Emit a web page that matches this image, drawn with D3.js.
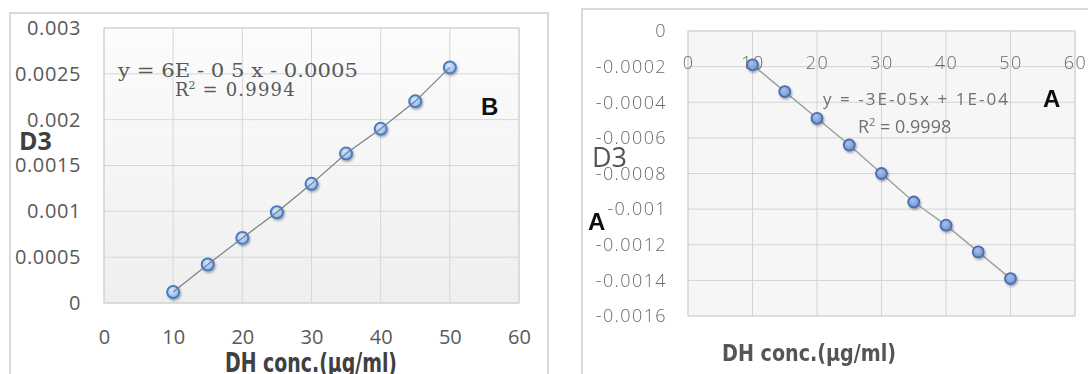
<!DOCTYPE html>
<html>
<head>
<meta charset="utf-8">
<script src="https://cdn.jsdelivr.net/npm/d3@7/dist/d3.min.js"></script>
<style>
  html, body { margin: 0; padding: 0; background: #ffffff; }
  svg { display: block; }
</style>
</head>
<body>
<svg id="chart" width="1088" height="374"></svg>
<script>
// Calibration data: DH concentration (µg/ml) vs. response
const concentrations = [10, 15, 20, 25, 30, 35, 40, 45, 50];
const seriesB = [0.00012, 0.00042, 0.00071, 0.00099, 0.0013, 0.00163, 0.0019, 0.0022, 0.00257];
const seriesA = [-0.00019, -0.00034, -0.00049, -0.00064, -0.0008, -0.00096, -0.00109, -0.00124, -0.00139];

const xTicks = [0, 10, 20, 30, 40, 50, 60];
const yTicksB = [0, 0.0005, 0.001, 0.0015, 0.002, 0.0025, 0.003];
const yLabelsB = ["0", "0.0005", "0.001", "0.0015", "0.002", "0.0025", "0.003"];
const yTicksA = [0, -0.0002, -0.0004, -0.0006, -0.0008, -0.001, -0.0012, -0.0014, -0.0016];
const yLabelsA = ["0", "-0.0002", "-0.0004", "-0.0006", "-0.0008", "-0.001", "-0.0012", "-0.0014", "-0.0016"];

const eqB = "y = 6E - 0 5 x  -  0.0005";
const r2B = "0.9994";
const eqA = "y = -3E-05x + 1E-04";
const r2A = "0.9998";
const axisTitle = "DH conc.(\u03BCg/ml)";

const svg = d3.select("#chart");
const defs = svg.append("defs");

// marker shading and shadow
const gB = defs.append("radialGradient").attr("id", "fillB").attr("cx", "40%").attr("cy", "35%").attr("r", "70%");
gB.append("stop").attr("offset", "0%").attr("stop-color", "#d6e6fb");
gB.append("stop").attr("offset", "100%").attr("stop-color", "#8db5ea");
const gA = defs.append("radialGradient").attr("id", "fillA").attr("cx", "40%").attr("cy", "35%").attr("r", "70%");
gA.append("stop").attr("offset", "0%").attr("stop-color", "#a9c1ea");
gA.append("stop").attr("offset", "100%").attr("stop-color", "#6f91d0");
const bgGrad = defs.append("linearGradient").attr("id", "plotBg").attr("x1", 0).attr("y1", 0).attr("x2", 0).attr("y2", 1);
bgGrad.append("stop").attr("offset", "0%").attr("stop-color", "#fcfcfc");
bgGrad.append("stop").attr("offset", "100%").attr("stop-color", "#efefef");
const sh = defs.append("filter").attr("id", "shadow").attr("x", "-50%").attr("y", "-50%").attr("width", "200%").attr("height", "200%");
sh.append("feDropShadow").attr("dx", 1).attr("dy", 1.5).attr("stdDeviation", 1.2)
  .attr("flood-color", "#000").attr("flood-opacity", 0.35);
const soft = defs.append("filter").attr("id", "soft");
soft.append("feGaussianBlur").attr("stdDeviation", 0.45);

const tickFont = "'Open Sans', 'DejaVu Sans', sans-serif";
const narrowFont = "'Liberation Sans Narrow', 'DejaVu Sans Condensed', sans-serif";
const serifFont = "'DejaVu Serif', 'Liberation Serif', serif";

// ---------- Panel B (left) ----------
const pB = svg.append("g");
pB.append("rect").attr("x", 10).attr("y", 13).attr("width", 538).attr("height", 420)
  .attr("fill", "#ffffff").attr("stroke", "#d9d9d9").attr("stroke-width", 2);

const xB = d3.scaleLinear().domain([0, 60]).range([104, 519]);
const yB = d3.scaleLinear().domain([0, 0.003]).range([303, 28]);

pB.append("rect").attr("x", xB(0)).attr("y", yB(0.003))
  .attr("width", xB(60) - xB(0)).attr("height", yB(0) - yB(0.003))
  .attr("fill", "url(#plotBg)").attr("stroke", "#c8c8c8").attr("stroke-width", 1);

pB.append("g").selectAll("line.h").data(yTicksB).join("line")
  .attr("x1", xB(0)).attr("x2", xB(60)).attr("y1", d => yB(d)).attr("y2", d => yB(d))
  .attr("stroke", "#d6d6d6").attr("stroke-width", 1);
pB.append("g").selectAll("line.v").data(xTicks).join("line")
  .attr("x1", d => xB(d)).attr("x2", d => xB(d)).attr("y1", yB(0)).attr("y2", yB(0.003))
  .attr("stroke", "#d6d6d6").attr("stroke-width", 1);

const axYB = pB.append("g").attr("transform", `translate(${xB(0)},0)`)
  .call(d3.axisLeft(yB).tickValues(yTicksB).tickSize(0).tickPadding(23)
    .tickFormat((d, i) => yLabelsB[i]));
const axXB = pB.append("g").attr("transform", `translate(0,${yB(0)})`)
  .call(d3.axisBottom(xB).tickValues(xTicks).tickSize(0).tickPadding(27).tickFormat(d3.format("d")));
[axYB, axXB].forEach(a => {
  a.select(".domain").remove();
  a.selectAll("text").attr("fill", "#595959").style("font-family", tickFont).style("font-size", "20px");
});
axYB.selectAll("text").attr("letter-spacing", "0.6px");

const lineB = d3.line().x((d, i) => xB(concentrations[i])).y(d => yB(d));
pB.append("g").selectAll("circle").data(seriesB).join("circle")
  .attr("cx", (d, i) => xB(concentrations[i])).attr("cy", d => yB(d)).attr("r", 6)
  .attr("fill", "url(#fillB)").attr("stroke", "#4a7bbf").attr("stroke-width", 2)
  .attr("filter", "url(#shadow)");
pB.append("path").datum(seriesB).attr("d", lineB)
  .attr("fill", "none").attr("stroke", "#7a7f88").attr("stroke-width", 1.2);

pB.append("text").attr("x", 118).attr("y", 77).text(eqB)
  .attr("textLength", 240).attr("lengthAdjust", "spacingAndGlyphs")
  .style("font-family", serifFont).style("font-size", "18px").attr("fill", "#595959");
const r2TextB = pB.append("text").attr("x", 175).attr("y", 96)
  .style("font-family", serifFont).style("font-size", "18px").attr("fill", "#595959");
r2TextB.append("tspan").text("R");
r2TextB.append("tspan").text("2").attr("dy", -7).style("font-size", "11px");
r2TextB.append("tspan").text(" = " + r2B).attr("dy", 7).attr("letter-spacing", "1.2px");

pB.append("text").attr("x", 19).attr("y", 150).text("D3")
  .style("font-family", tickFont).style("font-weight", "bold").style("font-size", "25px").attr("fill", "#404040");
pB.append("text").attr("x", 481).attr("y", 115).text("B")
  .style("font-family", "'Liberation Sans', Arial, sans-serif").style("font-weight", "bold").style("font-size", "24px").attr("fill", "#111");
pB.append("text").attr("x", 225).attr("y", 372).text(axisTitle)
  .attr("textLength", 172).attr("lengthAdjust", "spacingAndGlyphs")
  .style("font-family", narrowFont).style("font-weight", "bold").style("font-size", "27px").attr("fill", "#404040");

// ---------- Panel A (right) ----------
const pA = svg.append("g").attr("filter", "url(#soft)");
pA.append("rect").attr("x", 582).attr("y", 9).attr("width", 600).attr("height", 420)
  .attr("fill", "#ffffff").attr("stroke", "#d9d9d9").attr("stroke-width", 2);

const xA = d3.scaleLinear().domain([0, 60]).range([688, 1075]);
const yA = d3.scaleLinear().domain([-0.0016, 0]).range([316, 31]);

pA.append("rect").attr("x", xA(0)).attr("y", yA(0))
  .attr("width", xA(60) - xA(0)).attr("height", yA(-0.0016) - yA(0))
  .attr("fill", "#f6f6f6").attr("stroke", "#d4d4d4").attr("stroke-width", 1);

pA.append("g").selectAll("line").data(yTicksA).join("line")
  .attr("x1", xA(0)).attr("x2", xA(60)).attr("y1", d => yA(d)).attr("y2", d => yA(d))
  .attr("stroke", "#d3d3d3").attr("stroke-width", 1);
pA.append("g").selectAll("line").data(xTicks).join("line")
  .attr("x1", d => xA(d)).attr("x2", d => xA(d)).attr("y1", yA(0)).attr("y2", yA(-0.0016))
  .attr("stroke", "#d3d3d3").attr("stroke-width", 1);

const axYA = pA.append("g").attr("transform", `translate(${xA(0)},0)`)
  .call(d3.axisLeft(yA).tickValues(yTicksA).tickSize(0).tickPadding(21)
    .tickFormat((d, i) => yLabelsA[i]));
const axXA = pA.append("g").attr("transform", `translate(0,${yA(0)})`)
  .call(d3.axisBottom(xA).tickValues(xTicks).tickSize(0).tickPadding(25).tickFormat(d3.format("d")));
[axYA, axXA].forEach(a => {
  a.select(".domain").remove();
  a.selectAll("text").attr("fill", "#6a6a6a").style("font-family", tickFont).style("font-size", "18px")
    .style("font-weight", "300").attr("letter-spacing", "1.4px");
});

const lineA = d3.line().x((d, i) => xA(concentrations[i])).y(d => yA(d));
pA.append("path").datum(seriesA).attr("d", lineA)
  .attr("fill", "none").attr("stroke", "#9aa59c").attr("stroke-width", 1.5);
pA.append("g").selectAll("circle").data(seriesA).join("circle")
  .attr("cx", (d, i) => xA(concentrations[i])).attr("cy", d => yA(d)).attr("r", 5.5)
  .attr("fill", "url(#fillA)").attr("stroke", "#4a6cb3").attr("stroke-width", 1.8)
  .attr("filter", "url(#shadow)");

pA.append("text").attr("x", 823).attr("y", 105).text(eqA)
  .attr("textLength", 185).attr("lengthAdjust", "spacing")
  .style("font-family", tickFont).style("font-size", "17px").attr("fill", "#707070");
const r2TextA = pA.append("text").attr("x", 858).attr("y", 133)
  .style("font-family", tickFont).style("font-size", "18px").attr("fill", "#707070");
r2TextA.append("tspan").text("R");
r2TextA.append("tspan").text("2").attr("dy", -7).style("font-size", "11px");
r2TextA.append("tspan").text(" = " + r2A).attr("dy", 7);

pA.append("text").attr("x", 592).attr("y", 167).text("D3")
  .style("font-family", tickFont).style("font-size", "27px").attr("fill", "#555555");
pA.append("text").attr("x", 588).attr("y", 230).text("A")
  .style("font-family", "'Liberation Sans', Arial, sans-serif").style("font-weight", "bold").style("font-size", "24px").attr("fill", "#111");
pA.append("text").attr("x", 1043).attr("y", 107).text("A")
  .style("font-family", "'Liberation Sans', Arial, sans-serif").style("font-weight", "bold").style("font-size", "24px").attr("fill", "#111");
pA.append("text").attr("x", 722).attr("y", 361).text(axisTitle)
  .attr("textLength", 174).attr("lengthAdjust", "spacingAndGlyphs")
  .style("font-family", narrowFont).style("font-weight", "bold").style("font-size", "23px").attr("fill", "#555555");
</script>
</body>
</html>
